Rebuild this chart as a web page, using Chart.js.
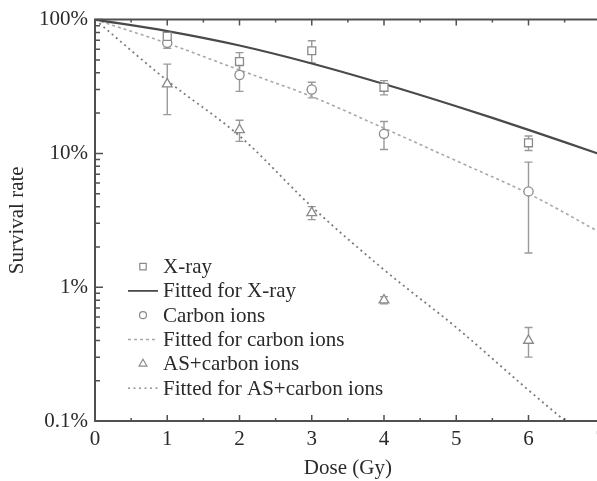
<!DOCTYPE html>
<html>
<head>
<meta charset="utf-8">
<script src="https://cdn.jsdelivr.net/npm/chart.js@4/dist/chart.umd.min.js"></script>
<style>
html,body{margin:0;padding:0;overflow:hidden;background:#fff;}
#wrap{width:612px;height:481px;}
</style>
</head>
<body>
<div id="wrap"><canvas id="c" width="612" height="481"></canvas></div>
<script>
// ---- data ----
const doses = [1, 2, 3, 4, 6];
const xray = [75, 48.6, 58.5, 31.2, 12];
const xrayErr = [6, 8, 11, 3.8, 1.5];
const carbon = [67, 38.5, 30, 14, 5.2];
const carbonErr = [6, 9.4, 4, 3.3, 3.4];
const asCarbon = [33, 15, 3.6, 0.8, 0.4];
const asCarbonErr = [13.5, 2.7, 0.4, 0.05, 0.1];

const fitDoses = [0, 1, 2, 3, 4, 5, 6, 7];
const xrayFit = [100, 82, 64, 47, 33, 22.5, 15, 9.8];
const carbonFit = [100, 66.5, 42, 26.6, 15.4, 8.8, 5.0, 2.55];
const asCarbonFit = [100, 35, 13.5, 4.0, 1.35, 0.5, 0.17, 0.06];

const xTicks = [0, 1, 2, 3, 4, 5, 6, 7];
const xTickLabels = ['0', '1', '2', '3', '4', '5', '6', '7'];
const yTicks = [0.1, 1, 10, 100];
const yTickLabels = ['0.1%', '1%', '10%', '100%'];

const legendLabels = ['X-ray', 'Fitted for X-ray', 'Carbon ions', 'Fitted for carbon ions', 'AS+carbon ions', 'Fitted for AS+carbon ions'];

// ---- helpers ----
const pts = (xs, ys) => xs.map((x, i) => ({x: x, y: ys[i]}));
const FONT = {family: '"Liberation Serif", "Times New Roman", serif', size: 21};
const TXT = '#2a2a2a';

const markerStyle = (shape, r) => ({
  showLine: false, pointStyle: shape, pointRadius: r, pointHoverRadius: r,
  pointBackgroundColor: '#fff', pointBorderColor: '#8a8a8a', pointBorderWidth: 1.3,
  borderColor: '#8a8a8a', backgroundColor: '#fff'
});
const fitStyle = (color, width, dash) => ({
  showLine: true, pointRadius: 0, pointHoverRadius: 0, borderColor: color,
  borderWidth: width, borderDash: dash, tension: 0.35, fill: false,
  backgroundColor: color
});

const datasets = [
  Object.assign({label: legendLabels[0], data: pts(doses, xray), err: xrayErr, legendR: 4.5}, markerStyle('rect', 5.6)),
  Object.assign({label: legendLabels[1], data: pts(fitDoses, xrayFit)}, fitStyle('#4a4a4a', 2.2, [])),
  Object.assign({label: legendLabels[2], data: pts(doses, carbon), err: carbonErr, legendR: 3.5}, markerStyle('circle', 4.6)),
  Object.assign({label: legendLabels[3], data: pts(fitDoses, carbonFit)}, fitStyle('#a8a8a8', 1.6, [3, 3])),
  Object.assign({label: legendLabels[4], data: pts(doses, asCarbon), err: asCarbonErr, legendR: 4.5}, markerStyle('triangle', 5.6)),
  Object.assign({label: legendLabels[5], data: pts(fitDoses, asCarbonFit)}, fitStyle('#7c7c7c', 1.8, [2, 3.5]))
];

// error bars (drawn beneath the markers)
const errorBars = {
  id: 'errorBars',
  beforeDatasetsDraw(chart) {
    const {ctx, scales: {x, y}} = chart;
    ctx.save();
    ctx.strokeStyle = '#9a9a9a';
    ctx.lineWidth = 1.4;
    chart.data.datasets.forEach(ds => {
      if (!ds.err) return;
      ds.data.forEach((p, i) => {
        const e = ds.err[i];
        const px = x.getPixelForValue(p.x);
        const top = y.getPixelForValue(p.y + e);
        const bot = y.getPixelForValue(Math.max(p.y - e, 0.0001));
        ctx.beginPath();
        ctx.moveTo(px, top); ctx.lineTo(px, bot);
        ctx.moveTo(px - 4, top); ctx.lineTo(px + 4, top);
        ctx.moveTo(px - 4, bot); ctx.lineTo(px + 4, bot);
        ctx.stroke();
      });
    });
    ctx.restore();
  }
};

// frame with inward ticks + in-plot legend
const frameAndLegend = {
  id: 'frameAndLegend',
  afterDraw(chart) {
    const {ctx, chartArea: a, scales: {x, y}} = chart;
    ctx.save();
    ctx.strokeStyle = '#505050';
    ctx.lineWidth = 2;
    ctx.beginPath();
    ctx.moveTo(a.left, a.top); ctx.lineTo(a.right, a.top);
    ctx.moveTo(a.left, a.top - 1); ctx.lineTo(a.left, a.bottom + 1);
    ctx.moveTo(a.left - 1, a.bottom); ctx.lineTo(a.right, a.bottom);
    ctx.stroke();
    ctx.lineWidth = 1.5;
    ctx.beginPath();
    for (let v = x.min; v <= x.max + 1e-9; v += 0.5) {
      const px = x.getPixelForValue(v);
      const len = Math.abs(v - Math.round(v)) < 1e-9 ? 6 : 3;
      ctx.moveTo(px, a.bottom); ctx.lineTo(px, a.bottom - len);
      ctx.moveTo(px, a.top); ctx.lineTo(px, a.top + len);
    }
    yTicks.forEach(d => {
      for (let m = 1; m <= 9; m++) {
        const v = d * m;
        if (v > y.max + 1e-9) break;
        const py = y.getPixelForValue(v);
        const len = m === 1 ? 8 : 5;
        ctx.moveTo(a.left, py); ctx.lineTo(a.left + len, py);
      }
    });
    ctx.stroke();

    // legend
    const lx = a.left + 33, sym = lx + 15, tx = lx + 35;
    const row0 = a.top + 247, rowH = 24.3;
    ctx.font = FONT.size + 'px ' + FONT.family;
    ctx.fillStyle = TXT;
    ctx.textBaseline = 'middle';
    ctx.textAlign = 'left';
    chart.data.datasets.forEach((ds, i) => {
      const cy = row0 + i * rowH;
      if (ds.showLine) {
        ctx.save();
        ctx.strokeStyle = ds.borderColor;
        ctx.lineWidth = ds.borderWidth * 0.8;
        ctx.setLineDash(ds.borderDash || []);
        ctx.beginPath(); ctx.moveTo(lx, cy); ctx.lineTo(lx + 30, cy); ctx.stroke();
        ctx.restore();
      } else {
        ctx.save();
        ctx.strokeStyle = ds.pointBorderColor;
        ctx.fillStyle = '#fff';
        ctx.lineWidth = 1.2;
        Chart.helpers.drawPoint(ctx, {pointStyle: ds.pointStyle, radius: ds.legendR, rotation: 0, borderWidth: 1.2}, sym, cy);
        ctx.restore();
      }
      ctx.fillText(ds.label, tx, cy + 1);
    });
    ctx.restore();
  }
};

new Chart(document.getElementById('c'), {
  type: 'scatter',
  data: {datasets: datasets},
  plugins: [errorBars, frameAndLegend],
  options: {
    responsive: false,
    animation: false,
    devicePixelRatio: 1,
    layout: {padding: {left: 0, top: 18, right: 11, bottom: 0}},
    plugins: {legend: {display: false}, tooltip: {enabled: false}},
    scales: {
      x: {
        type: 'linear', min: 0, max: 7,
        afterBuildTicks: s => { s.ticks = xTicks.map(v => ({value: v})); },
        afterFit: s => { s.height = 60; },
        grid: {display: false, drawTicks: false},
        border: {display: false},
        ticks: {callback: (v, i) => xTickLabels[i], font: FONT, color: TXT, padding: 6, maxRotation: 0, autoSkip: false},
        title: {display: true, text: 'Dose (Gy)', font: FONT, color: TXT, padding: {top: 0, bottom: 0}}
      },
      y: {
        type: 'logarithmic', min: 0.1, max: 100,
        afterBuildTicks: s => { s.ticks = yTicks.map(v => ({value: v})); },
        afterFit: s => { s.width = 95; },
        grid: {display: false, drawTicks: false},
        border: {display: false},
        ticks: {callback: (v, i) => yTickLabels[i], font: FONT, color: TXT, padding: 7, autoSkip: false},
        title: {display: true, text: 'Survival rate', font: FONT, color: TXT, padding: {top: 5, bottom: 0}}
      }
    }
  }
});
</script>
</body>
</html>
